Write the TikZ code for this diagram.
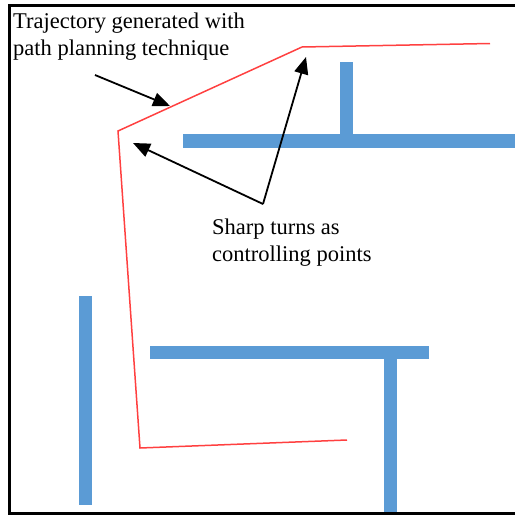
\documentclass[tikz,border=0pt]{standalone}
\usepackage{fontspec}
\setmainfont{Liberation Serif}
\usetikzlibrary{arrows.meta}
\definecolor{wallblue}{RGB}{91,155,213}
\definecolor{pathred}{RGB}{255,64,64}
\begin{document}
\begin{tikzpicture}[x=1pt,y=-1pt,
  traj/.style={pathred,line width=1.5pt,line join=miter},
  pointer/.style={-{Triangle[length=17pt,width=14pt]},line width=1.8pt},
  label/.style={font=\fontsize{22.5}{27}\selectfont,align=left,inner sep=0pt,anchor=base west}]
  \useasboundingbox (0,0) rectangle (515,515);
  % walls
  \fill[wallblue] (183,134) rectangle (515,148);
  \fill[wallblue] (340,62) rectangle (353,134);
  \fill[wallblue] (79,296) rectangle (92,505);
  \fill[wallblue] (150,346) rectangle (429,359);
  \fill[wallblue] (384,359) rectangle (397,514);
  \draw[line width=3pt] (515,5.5) -- (9.5,5.5) -- (9.5,513.5) -- (515,513.5);
  % trajectory
  \coordinate (start) at (490,43.5);
  \coordinate (turnA) at (302,47);
  \coordinate (turnB) at (118,131);
  \coordinate (turnC) at (140,448);
  \coordinate (goal) at (347,440);
  \draw[traj] (start) -- (turnA) -- (turnB) -- (turnC) -- (goal);
  % labels
  \node[label] (trajtext) at (13,55) {Trajectory generated with\\path planning technique};
  \node[label] (turntext) at (212,261) {Sharp turns as\\controlling points};
  \coordinate (tailA) at (95,75);
  \coordinate (tipA) at (170,106);
  \coordinate (tailB) at (263,204);
  \coordinate (tipB) at (133,143);
  \coordinate (tipC) at (306,57);
  \draw[pointer] (tailA) -- (tipA);
  \draw[pointer] (tailB) -- (tipB);
  \draw[pointer] (tailB) -- (tipC);
\end{tikzpicture}
\end{document}
